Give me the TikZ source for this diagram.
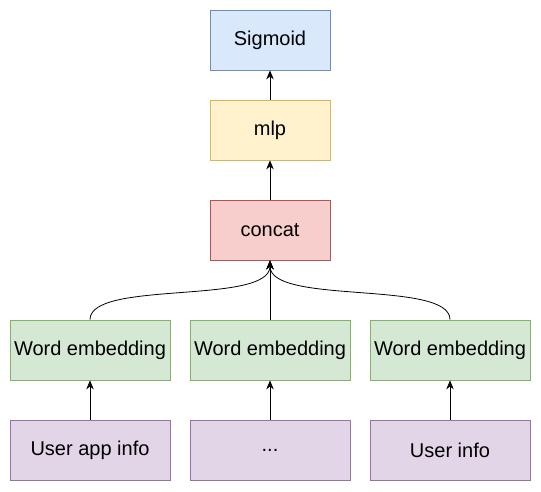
\documentclass[tikz,border=0pt]{standalone}
\usepackage{fontspec}
\setmainfont{Liberation Sans}
\usepackage{xcolor}
\usetikzlibrary{arrows.meta}
\definecolor{vbluefill}{HTML}{dae8fc}
\definecolor{vblueline}{HTML}{6c8ebf}
\definecolor{vyellowfill}{HTML}{fff2cc}
\definecolor{vyellowline}{HTML}{d6b656}
\definecolor{vredfill}{HTML}{f8cecc}
\definecolor{vredline}{HTML}{b85450}
\definecolor{vgreenfill}{HTML}{d5e8d4}
\definecolor{vgreenline}{HTML}{82b366}
\definecolor{vpurplefill}{HTML}{e1d5e7}
\definecolor{vpurpleline}{HTML}{9673a6}
\begin{document}
\begin{tikzpicture}[x=1pt, y=-1pt,
		box/.style={draw, line width=0.8pt, minimum height=60pt, inner sep=0pt, font=\fontsize{20}{24}\selectfont},
		smallbox/.style={box, minimum width=120pt},
		widebox/.style={box, minimum width=160pt},
		arr/.style={line width=0.8pt, -{Stealth[length=9pt, width=7.5pt]}}]
		\useasboundingbox (0,0) rectangle (541,491);
		\node[smallbox, fill=vbluefill, draw=vblueline] (sigmoid) at (270,40) {Sigmoid};
		\node[smallbox, fill=vyellowfill, draw=vyellowline] (mlp) at (270,130) {mlp};
		\node[smallbox, fill=vredfill, draw=vredline] (concat) at (270,230) {concat};
		\node[widebox, fill=vgreenfill, draw=vgreenline] (embA) at (90,350) {Word embedding};
		\node[widebox, fill=vgreenfill, draw=vgreenline] (embB) at (270,350) {Word embedding};
		\node[widebox, fill=vgreenfill, draw=vgreenline] (embC) at (450,350) {Word embedding};
		\node[widebox, fill=vpurplefill, draw=vpurpleline] (appinfo) at (90,450) {User app info};
		\node[widebox, fill=vpurplefill, draw=vpurpleline] (dots) at (270,450) {...};
		\node[widebox, fill=vpurplefill, draw=vpurpleline] (userinfo) at (450,450) {User info};
		\draw[arr] (mlp) -- (sigmoid);
		\draw[arr] (concat) -- (mlp);
		\draw[arr] (embA.north) .. controls +(0,-40) and +(0,45) .. (concat.south);
		\draw[arr] (embB) -- (concat);
		\draw[arr] (embC.north) .. controls +(0,-40) and +(0,45) .. (concat.south);
		\draw[arr] (appinfo) -- (embA);
		\draw[arr] (dots) -- (embB);
		\draw[arr] (userinfo) -- (embC);
	\end{tikzpicture}
\end{document}
